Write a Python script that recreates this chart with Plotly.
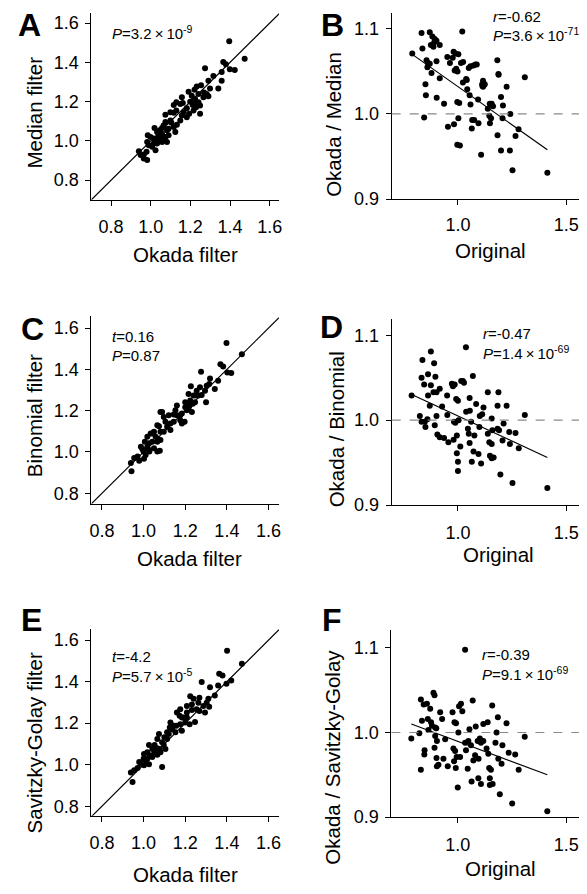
import plotly.graph_objects as go

FONT = "Liberation Sans, Arial, Helvetica, sans-serif"
# the page body keeps its default 8px margin, so the figure is shrunk and shifted by it
OFF = 8
W, H = 587 - OFF, 894 - OFF

# ---- A: Okada filter vs Median filter
okada_a = [1.396, 1.474, 1.399, 1.424, 1.366, 1.379, 1.358, 1.341, 1.358, 1.316,
           1.274, 1.299, 1.282, 1.291, 1.266, 1.254, 1.232, 1.221, 1.207, 1.224,
           1.241, 1.249, 1.229, 1.212, 1.199, 1.191, 1.249, 1.216, 1.182, 1.182,
           1.157, 1.149, 1.129, 1.116, 1.129, 1.099, 1.116, 1.074, 1.149, 1.132,
           1.116, 1.104, 1.124, 1.090, 1.082, 1.065, 1.057, 1.045, 1.057, 1.045,
           1.032, 1.019, 1.065, 1.074, 1.082, 1.057, 1.032, 1.015, 0.985, 0.999,
           0.990, 1.007, 1.024, 0.979, 0.940, 0.949, 0.965, 0.982, 0.965, 1.049,
           1.040, 1.099, 1.166, 1.090, 1.194, 1.157, 1.241, 1.216, 1.269, 1.015,
           1.032, 1.291, 1.162, 1.232, 1.074, 0.982]
median_a = [1.508, 1.418, 1.365, 1.361, 1.402, 1.390, 1.351, 1.267, 1.306, 1.331,
            1.370, 1.267, 1.239, 1.227, 1.222, 1.284, 1.277, 1.261, 1.230, 1.213,
            1.197, 1.180, 1.171, 1.183, 1.200, 1.250, 1.138, 1.155, 1.166, 1.121,
            1.222, 1.188, 1.155, 1.183, 1.197, 1.146, 1.143, 1.133, 1.104, 1.082,
            1.071, 1.092, 1.045, 1.029, 1.054, 1.079, 1.066, 1.054, 1.037, 1.025,
            1.012, 1.066, 1.012, 1.020, 0.995, 0.995, 0.987, 1.012, 1.029, 1.020,
            0.978, 0.970, 0.953, 0.945, 0.948, 0.928, 0.911, 0.903, 0.931, 1.003,
            1.037, 1.104, 1.146, 1.062, 1.138, 1.129, 1.239, 1.205, 1.247, 0.987,
            1.045, 1.306, 1.193, 1.180, 1.096, 0.995]

# ---- B: Original vs Okada / Median
orig_b = [0.789, 0.832, 0.836, 0.850, 0.852, 0.844, 0.870, 0.875, 0.882, 0.887,
          0.893, 0.890, 0.901, 0.916, 0.862, 0.859, 0.870, 0.855, 0.878, 0.901,
          0.916, 0.902, 0.936, 0.951, 0.963, 0.954, 0.976, 0.982, 0.980, 0.989,
          0.985, 0.992, 0.998, 1.002, 0.997, 1.002, 1.006, 0.997, 1.009, 1.020,
          1.014, 1.024, 1.023, 1.038, 1.041, 1.043, 1.050, 1.058, 1.054, 1.064,
          1.066, 1.075, 1.058, 1.072, 1.081, 1.087, 1.095, 1.093, 1.107, 1.113,
          1.121, 1.116, 1.116, 1.112, 1.124, 1.138, 1.147, 1.153, 1.148, 1.156,
          1.145, 1.162, 1.182, 1.183, 1.187, 1.188, 1.199, 1.199, 1.208, 1.206,
          1.225, 1.240, 1.242, 1.252, 1.266, 1.280, 1.309, 1.413]
ratio_b = [1.071, 1.095, 1.077, 1.035, 1.022, 0.996, 1.096, 1.081, 1.091, 1.079,
           1.088, 1.084, 1.086, 1.081, 1.060, 1.055, 1.059, 1.063, 1.048, 1.062,
           1.042, 1.019, 1.012, 1.067, 1.060, 0.985, 1.066, 0.988, 1.073, 1.071,
           1.051, 1.053, 1.050, 1.070, 1.014, 0.995, 1.013, 0.964, 0.963, 1.097,
           1.060, 1.061, 1.037, 1.041, 1.040, 1.029, 1.054, 1.056, 1.022, 0.983,
           0.993, 0.993, 1.011, 1.057, 1.058, 1.058, 0.989, 1.017, 0.952, 1.033,
           1.034, 1.032, 1.039, 1.035, 1.035, 1.006, 1.012, 0.995, 0.989, 1.012,
           0.998, 1.009, 1.063, 0.975, 1.047, 1.046, 0.957, 1.020, 1.010, 0.995,
           1.032, 0.957, 1.000, 0.934, 0.974, 0.982, 1.043, 0.931]
fit_b_x = [0.789, 1.413]
fit_b_y = [1.070, 0.958]

# ---- C: Okada filter vs Binomial filter
okada_c = [1.398, 1.472, 1.369, 1.382, 1.402, 1.421, 1.276, 1.358, 1.342, 1.319,
           1.315, 1.295, 1.300, 1.271, 1.279, 1.255, 1.227, 1.240, 1.216, 1.224,
           1.200, 1.236, 1.208, 1.232, 1.184, 1.176, 1.160, 1.184, 1.153, 1.145,
           1.121, 1.105, 1.081, 1.089, 1.097, 1.066, 1.074, 1.050, 1.058, 1.069,
           1.081, 1.097, 1.034, 1.018, 1.006, 1.026, 1.042, 0.987, 1.000, 1.028,
           1.066, 1.078, 1.050, 1.026, 0.971, 0.979, 0.955, 0.939, 0.942, 1.002,
           1.010, 1.113, 1.129, 1.160, 1.197, 1.216, 1.252, 1.263, 1.066, 1.042,
           1.081, 1.200, 1.247, 1.176, 1.303, 1.129, 0.994, 1.018, 1.145, 1.221]
binomial_c = [1.528, 1.473, 1.425, 1.414, 1.385, 1.382, 1.388, 1.345, 1.305, 1.356,
              1.329, 1.297, 1.241, 1.313, 1.276, 1.297, 1.318, 1.273, 1.281, 1.249,
              1.241, 1.233, 1.202, 1.194, 1.186, 1.178, 1.225, 1.138, 1.202, 1.181,
              1.178, 1.146, 1.194, 1.194, 1.170, 1.130, 1.125, 1.098, 1.074, 1.063,
              1.058, 1.098, 1.090, 1.074, 1.050, 1.042, 1.050, 1.026, 1.002, 1.002,
              1.002, 1.006, 1.018, 1.010, 0.978, 0.958, 0.971, 0.947, 0.907, 0.967,
              0.986, 1.122, 1.138, 1.178, 1.146, 1.210, 1.273, 1.273, 1.050, 1.090,
              1.098, 1.217, 1.241, 1.154, 1.321, 1.106, 1.015, 1.026, 1.146, 1.225]

# ---- D: Original vs Okada / Binomial
orig_d = [0.786, 0.836, 0.875, 0.890, 0.832, 0.862, 0.844, 0.875, 0.896, 0.916,
          0.887, 0.901, 0.862, 0.870, 0.927, 0.950, 0.824, 0.832, 0.847, 0.859,
          0.850, 0.893, 0.901, 0.905, 0.916, 0.936, 0.956, 0.951, 0.972, 0.985,
          0.977, 0.982, 0.988, 0.980, 0.995, 0.995, 1.000, 1.000, 0.992, 1.000,
          1.003, 1.011, 1.015, 1.023, 1.028, 1.037, 1.038, 1.046, 1.050, 1.054,
          1.055, 1.054, 1.061, 1.064, 1.069, 1.072, 1.076, 1.084, 1.095, 1.099,
          1.107, 1.101, 1.112, 1.118, 1.138, 1.138, 1.145, 1.148, 1.156, 1.156,
          1.159, 1.165, 1.156, 1.183, 1.187, 1.190, 1.196, 1.206, 1.211, 1.225,
          1.237, 1.240, 1.252, 1.266, 1.281, 1.309, 1.413, 1.183]
ratio_d = [1.029, 1.071, 1.081, 1.067, 1.050, 1.054, 1.042, 1.041, 1.051, 1.037,
           1.033, 1.033, 1.029, 1.017, 1.016, 1.029, 1.005, 0.998, 0.998, 1.001,
           0.992, 0.994, 1.005, 0.983, 0.980, 0.979, 0.974, 1.006, 1.043, 1.042,
           1.040, 0.998, 0.997, 0.977, 0.982, 0.961, 0.951, 0.940, 1.025, 1.023,
           1.000, 0.969, 1.046, 1.046, 1.044, 1.086, 1.010, 0.990, 0.984, 1.026,
           1.011, 0.973, 0.998, 0.951, 1.052, 0.963, 0.982, 1.019, 0.960, 0.992,
           0.949, 1.005, 1.007, 1.015, 1.033, 0.984, 0.974, 0.958, 0.955, 1.002,
           0.988, 0.956, 0.972, 1.017, 1.033, 0.988, 0.936, 0.976, 0.996, 1.017,
           0.986, 0.972, 0.926, 0.985, 0.967, 1.006, 0.920, 0.990]
fit_d_x = [0.789, 1.413]
fit_d_y = [1.030, 0.956]

# ---- E: Okada filter vs Savitzky-Golay filter
okada_e = [1.401, 1.472, 1.363, 1.379, 1.398, 1.421, 1.279, 1.319, 1.358, 1.342,
           1.311, 1.295, 1.315, 1.268, 1.263, 1.240, 1.224, 1.232, 1.208, 1.232,
           1.208, 1.192, 1.173, 1.160, 1.247, 1.221, 1.184, 1.157, 1.153, 1.129,
           1.126, 1.137, 1.100, 1.113, 1.089, 1.074, 1.066, 1.053, 1.066, 1.078,
           1.097, 1.042, 1.026, 1.018, 1.031, 1.050, 1.066, 1.002, 1.000, 0.987,
           1.002, 1.026, 1.042, 0.971, 0.955, 0.939, 0.947, 1.089, 1.105, 1.176,
           1.200, 1.255, 1.287, 1.176, 1.145, 1.113, 1.010, 0.979, 1.081, 1.184,
           1.268, 1.208, 1.303, 1.058, 1.121, 1.018]
savgol_e = [1.548, 1.486, 1.438, 1.429, 1.390, 1.405, 1.398, 1.373, 1.381, 1.333,
            1.317, 1.251, 1.279, 1.322, 1.298, 1.317, 1.330, 1.290, 1.283, 1.263,
            1.251, 1.227, 1.235, 1.251, 1.206, 1.195, 1.163, 1.187, 1.156, 1.203,
            1.179, 1.171, 1.132, 1.124, 1.108, 1.148, 1.124, 1.095, 1.079, 1.076,
            1.095, 1.076, 1.095, 1.060, 1.044, 1.052, 1.048, 1.052, 1.029, 1.005,
            0.997, 1.002, 1.037, 0.984, 0.973, 0.962, 0.917, 0.989, 1.076, 1.195,
            1.203, 1.267, 1.283, 1.267, 1.187, 1.156, 1.021, 1.013, 1.060, 1.227,
            1.259, 1.227, 1.298, 1.068, 1.148, 1.029]

# ---- F: Original vs Okada / Savitzky-Golay
orig_f = [0.786, 0.830, 0.843, 0.858, 0.835, 0.823, 0.830, 0.847, 0.846, 0.873,
          0.888, 0.893, 0.862, 0.865, 0.877, 0.881, 0.896, 0.901, 0.896, 0.904,
          0.893, 0.902, 0.904, 0.911, 0.919, 0.928, 0.942, 0.934, 0.954, 0.976,
          0.985, 0.992, 0.980, 0.988, 0.983, 0.995, 0.991, 1.000, 1.003, 1.006,
          1.015, 1.021, 1.011, 1.034, 1.034, 1.038, 1.046, 1.049, 1.054, 1.061,
          1.069, 1.064, 1.072, 1.083, 1.092, 1.096, 1.095, 1.102, 1.107, 1.107,
          1.118, 1.138, 1.133, 1.141, 1.145, 1.148, 1.153, 1.148, 1.161, 1.159,
          1.174, 1.179, 1.185, 1.187, 1.194, 1.202, 1.206, 1.225, 1.235, 1.251,
          1.265, 1.281, 1.309, 1.413, 1.118, 1.080]
ratio_f = [0.993, 1.039, 1.033, 1.034, 1.014, 0.999, 0.956, 0.979, 0.974, 1.028,
           1.047, 1.044, 1.016, 1.003, 1.012, 1.008, 1.006, 1.005, 0.996, 0.990,
           0.982, 0.970, 0.960, 0.962, 1.024, 1.016, 0.992, 0.969, 0.960, 1.024,
           1.012, 1.011, 0.981, 0.978, 0.966, 0.971, 0.958, 0.935, 1.000, 1.031,
           1.034, 1.025, 0.971, 1.098, 0.988, 0.979, 0.957, 0.990, 1.004, 0.985,
           1.038, 0.942, 0.967, 1.007, 0.990, 0.969, 0.946, 0.993, 0.939, 0.988,
           1.010, 1.012, 0.981, 0.975, 0.958, 0.946, 0.956, 0.938, 0.939, 1.032,
           0.988, 1.000, 1.018, 0.969, 0.927, 0.963, 0.985, 1.011, 0.976, 0.916,
           0.974, 0.956, 0.995, 0.907, 0.990, 0.973]
fit_f_x = [0.786, 1.413]
fit_f_y = [1.010, 0.950]

identity_a = [0.7, 1.65]
identity_ce = [0.75, 1.65]

filter_ticks = [0.8, 1.0, 1.2, 1.4, 1.6]
orig_ticks = [1.0, 1.5]
ratio_ticks = [0.9, 1.0, 1.1]


def px_x(v):
    return (v - OFF) / W


def px_y(v):
    return 1 - (v - OFF) / H


def axis(x0, x1, rng, ticks, anchor, standoff):
    return dict(domain=[x0, x1], range=rng, tickvals=ticks, tickformat=".1f", anchor=anchor,
                showline=True, linecolor="black", linewidth=1, ticks="outside", ticklen=5,
                tickwidth=1, tickcolor="black", showgrid=False, zeroline=False,
                ticklabelstandoff=standoff, tickfont=dict(family=FONT, size=18, color="black"))


fig = go.Figure()
dots = dict(color="black", size=6, line=dict(width=0))
line = dict(color="black", width=1.2)

scatter_sets = [
    (okada_a, median_a, "x", "y"),
    (orig_b, ratio_b, "x2", "y2"),
    (okada_c, binomial_c, "x3", "y3"),
    (orig_d, ratio_d, "x4", "y4"),
    (okada_e, savgol_e, "x5", "y5"),
    (orig_f, ratio_f, "x6", "y6"),
]
for xs, ys, xa, ya in scatter_sets:
    fig.add_trace(go.Scatter(x=xs, y=ys, xaxis=xa, yaxis=ya, mode="markers", marker=dots))

for xs, ys, xa, ya in [(identity_a, identity_a, "x", "y"), (fit_b_x, fit_b_y, "x2", "y2"),
                       (identity_ce, identity_ce, "x3", "y3"), (fit_d_x, fit_d_y, "x4", "y4"),
                       (identity_ce, identity_ce, "x5", "y5"), (fit_f_x, fit_f_y, "x6", "y6")]:
    fig.add_trace(go.Scatter(x=xs, y=ys, xaxis=xa, yaxis=ya, mode="lines", line=line))

# dashed reference at ratio = 1
for n in (2, 4, 6):
    fig.add_shape(type="line", xref=f"x{n} domain", yref=f"y{n}", x0=0, x1=1, y0=1.0, y1=1.0,
                  line=dict(color="#8a8a8a", width=1.2, dash="dash"))

left = (px_x(90), px_x(279.3))
right = (px_x(393), px_x(583))
fig.update_layout(
    width=W, height=H, margin=dict(l=0, r=0, t=0, b=0),
    paper_bgcolor="white", plot_bgcolor="white", showlegend=False,
    xaxis=axis(*left, [0.7, 1.647], filter_ticks, "y", 6),
    yaxis=axis(px_y(202), px_y(13), [0.7, 1.652], filter_ticks, "x", 3),
    xaxis2=axis(*right, [0.694, 1.564], orig_ticks, "y2", 4),
    yaxis2=axis(px_y(201.3), px_y(12.7), [0.9, 1.119], ratio_ticks, "x2", 3),
    xaxis3=axis(*left, [0.749, 1.65], filter_ticks, "y3", 6),
    yaxis3=axis(px_y(509.3), px_y(320), [0.75, 1.656], filter_ticks, "x3", 3),
    xaxis4=axis(*right, [0.694, 1.564], orig_ticks, "y4", 6),
    yaxis4=axis(px_y(510.7), px_y(322.7), [0.9, 1.119], ratio_ticks, "x4", 3),
    xaxis5=axis(*left, [0.749, 1.65], filter_ticks, "y5", 6),
    yaxis5=axis(px_y(825), px_y(635.7), [0.754, 1.655], filter_ticks, "x5", 3),
    xaxis6=axis(px_x(392.7), px_x(583), [0.694, 1.564], orig_ticks, "y6", 6),
    yaxis6=axis(px_y(826.3), px_y(637.3), [0.9, 1.121], ratio_ticks, "x6", 3),
)


def note(text, x, y, size, anchor="center", angle=0):
    fig.add_annotation(text=text, x=px_x(x), y=px_y(y), xref="paper", yref="paper",
                       xanchor=anchor, yanchor="middle", showarrow=False, textangle=angle,
                       font=dict(family=FONT, size=size, color="black"))


# panel letters
for letter, x, y in [("A", 28, 25.5), ("B", 333, 25.5), ("C", 31, 333),
                     ("D", 332, 331), ("E", 30, 627), ("F", 333, 627)]:
    note(f"<b>{letter}</b>", x, y, 32)

# axis titles
title_size = 20.5
note("Okada filter", 185, 257.5, title_size)
note("Okada filter", 189, 565, title_size)
note("Okada filter", 185, 884, title_size)
note("Original", 493, 253, title_size)
note("Original", 501, 561, title_size)
note("Original", 503, 878, title_size)
note("Median filter", 33, 114, title_size, angle=-90)
note("Binomial filter", 33, 420, title_size, angle=-90)
note("Savitzky-Golay filter", 33, 751, title_size, angle=-90)
note("Okada / Median", 334, 126, title_size, angle=-90)
note("Okada / Binomial", 337, 434, title_size, angle=-90)
note("Okada / Savitzky-Golay", 333, 766, title_size, angle=-90)

# statistics
stat = 15
note("<i>P</i>=3.2\u2009×\u200910<sup>-9</sup>", 109, 33, stat, anchor="left")
note("<i>r</i>=-0.62", 493, 17, stat, anchor="left")
note("<i>P</i>=3.6\u2009×\u200910<sup>-71</sup>", 493, 35, stat, anchor="left")
note("<i>t</i>=0.16", 109, 340, stat, anchor="left")
note("<i>P</i>=0.87", 109, 359, stat, anchor="left")
note("<i>r</i>=-0.47", 483, 337, stat, anchor="left")
note("<i>P</i>=1.4\u2009×\u200910<sup>-69</sup>", 483, 356, stat, anchor="left")
note("<i>t</i>=-4.2", 109, 664, stat, anchor="left")
note("<i>P</i>=5.7\u2009×\u200910<sup>-5</sup>", 109, 683, stat, anchor="left")
note("<i>r</i>=-0.39", 482, 662, stat, anchor="left")
note("<i>P</i>=9.1\u2009×\u200910<sup>-69</sup>", 482, 681, stat, anchor="left")

fig.write_html("out.html")
